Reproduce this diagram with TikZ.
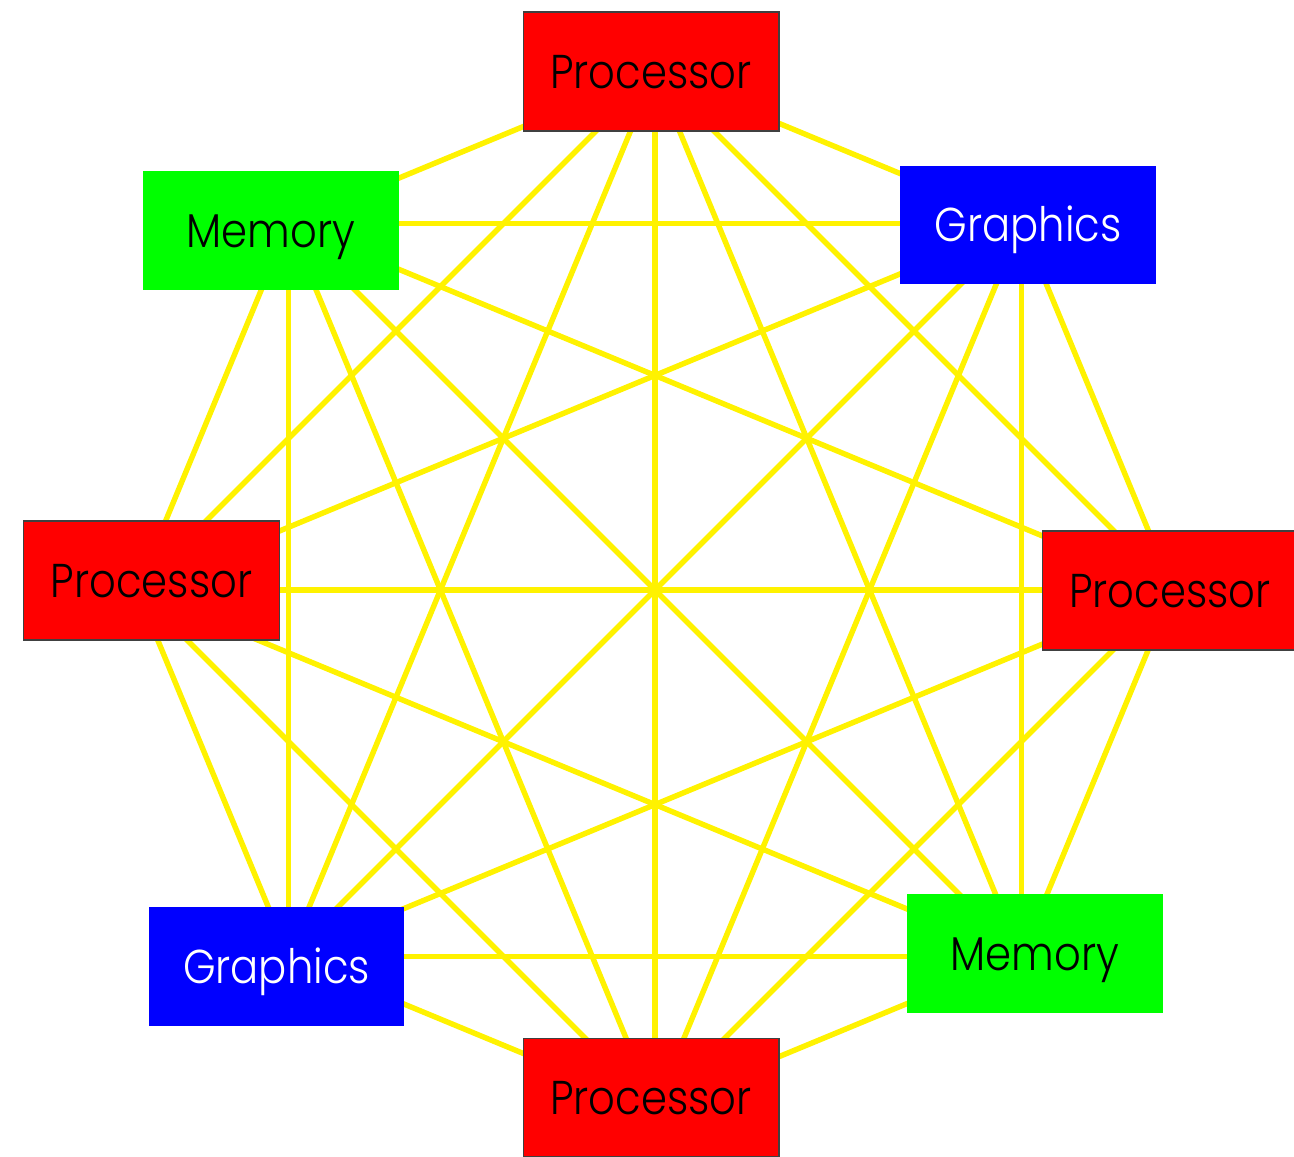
\documentclass[tikz,border=0pt]{standalone}
\usepackage{fontspec}
\newfontfamily\boxfont{Poppins Light}[FakeStretch=0.88]

\begin{document}
\begin{tikzpicture}[
    x=0.02cm, y=-0.02cm,
    link/.style={draw=yellow, line width=3.1pt},
    box/.style={rectangle, minimum width=5.12cm, minimum height=2.38cm, inner sep=0pt,
        text height=19pt, text depth=0pt, font=\boxfont\fontsize{27}{32}\selectfont},
    pnode/.style={box, fill=red, draw=black!75, line width=0.6pt, text=black},
    mnode/.style={box, fill=green, text=black},
    gnode/.style={box, fill=blue, text=white}
]

\useasboundingbox (0,0) rectangle (1294,1156);

\foreach \i in {0,...,7}
    \coordinate (v\i) at ({655+518*cos(90-45*\i)}, {590-518*sin(90-45*\i)});

\foreach \i in {0,...,6} {
    \pgfmathtruncatemacro\nexti{\i+1}
    \foreach \j in {\nexti,...,7}
        \draw[link] (v\i) -- (v\j);
}

\node [pnode] (proctop) at (651,71.5) {Processor};
\node [gnode] (gfxright) at (1028,225) {Graphics};
\node [pnode] (procright) at (1170,590.5) {Processor};
\node [mnode] (memright) at (1035,953.5) {Memory};
\node [pnode] (procbottom) at (651,1097.5) {Processor};
\node [gnode] (gfxleft) at (276.5,966.5) {Graphics};
\node [pnode] (procleft) at (151.5,580.5) {Processor};
\node [mnode] (memleft) at (271,230.5) {Memory};

\end{tikzpicture}
\end{document}
